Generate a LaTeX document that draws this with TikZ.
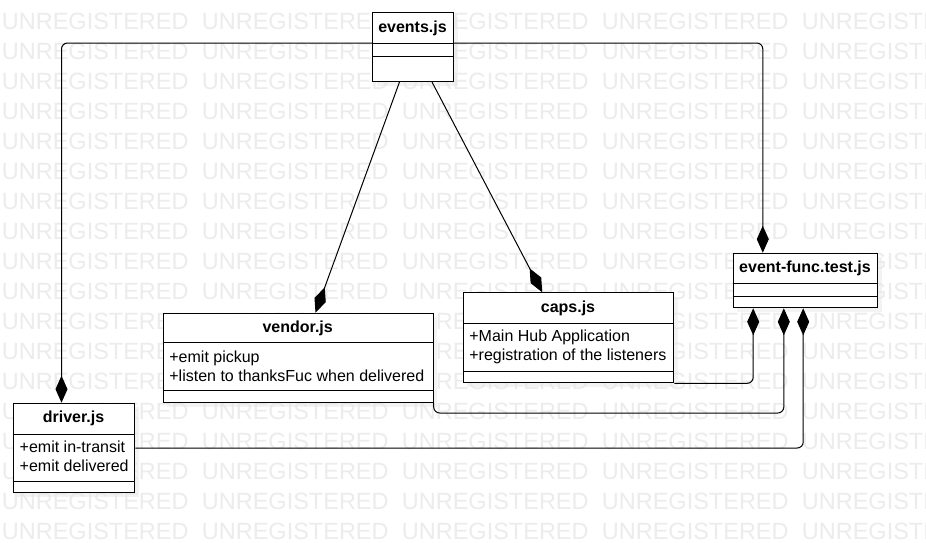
\documentclass[tikz,border=0pt]{standalone}
\usepackage{fontspec}
\setmainfont{Liberation Sans}
\usetikzlibrary{arrows.meta,shadows}
\definecolor{wmgray}{RGB}{236,236,236}

\begin{document}
\begin{tikzpicture}[x=1pt,y=-1pt,
box/.style={draw,line width=1pt,fill=white,inner sep=0,anchor=north west,drop shadow={shadow xshift=4pt,shadow yshift=-4pt,fill=black!9}},
cname/.style={font=\fontsize{16}{19}\selectfont\bfseries,inner sep=0},
attr/.style={font=\fontsize{16}{19}\selectfont,align=left,anchor=west,inner sep=0},
link/.style={line width=1pt,rounded corners=6pt,-{Diamond[length=27pt,width=12pt]}},
wm/.style={font=\fontsize{23.5}{24}\selectfont,text=wmgray,anchor=west,inner sep=0}]

\fill[white] (0,0) rectangle (926,542);
\useasboundingbox (0,0) rectangle (926,542);
\foreach \r in {0,...,18}{
\foreach \c in {0,...,4}{
\node[wm] (wm-\r-\c) at (1.7+200*\c,21+30*\r) {UNREGISTERED};
}
}

\node[box,minimum width=81pt,minimum height=69pt] (events) at (372,12) {};
\draw[line width=1pt] (372,43) -- (453,43) (372,56) -- (453,56);
\node[cname] (eventsT) at (412.5,28) {events.js};

\node[box,minimum width=270pt,minimum height=89.3pt] (vendor) at (162.7,312.7) {};
\draw[line width=1pt] (162.7,342.7) -- (432.7,342.7) (162.7,390.7) -- (432.7,390.7);
\node[cname] (vendorT) at (297.7,328) {vendor.js};
\node[attr] (vendorA) at (169.2,366.5) {+emit pickup\\+listen to thanksFuc when delivered};

\node[box,minimum width=121.6pt,minimum height=89.6pt] (driver) at (12.7,402.7) {};
\draw[line width=1pt] (12.7,434) -- (134.3,434) (12.7,481.7) -- (134.3,481.7);
\node[cname] (driverT) at (73.5,418.5) {driver.js};
\node[attr] (driverA) at (19.5,456) {+emit in-transit\\+emit delivered};

\node[box,minimum width=210.6pt,minimum height=90pt] (caps) at (462.7,292.3) {};
\draw[line width=1pt] (462.7,323.3) -- (673.3,323.3) (462.7,371) -- (673.3,371);
\node[cname] (capsT) at (568,308) {caps.js};
\node[attr] (capsA) at (469.2,346.5) {+Main Hub Application\\+registration of the listeners};

\node[box,minimum width=144.6pt,minimum height=54.6pt] (efunc) at (732.7,252.7) {};
\draw[line width=1pt] (732.7,283.3) -- (877.3,283.3) (732.7,296) -- (877.3,296);
\node[cname] (efuncT) at (805,268) {event-func.test.js};

\draw[link] ([xshift=-13.5pt]events.south) -- ([xshift=17.3pt]vendor.north);
\draw[link] ([xshift=19pt]events.south) -- ([xshift=-26.3pt]caps.north);
\draw[link] ([yshift=-31pt]events.north west) -| ([xshift=-12.5pt]driver.north);
\draw[link] ([yshift=-31pt]events.north east) -| ([xshift=-42.7pt]efunc.north);
\draw[link] (caps.south east) -| ([xshift=-52.3pt]efunc.south);
\coordinate (vbend) at ([yshift=-10pt]vendor.south east);
\draw[link] (vendor.south east) -- (vbend) -| ([xshift=-21.7pt]efunc.south);
\draw[link] (driver.east) -| ([xshift=-2.3pt]efunc.south);
\end{tikzpicture}
\end{document}
